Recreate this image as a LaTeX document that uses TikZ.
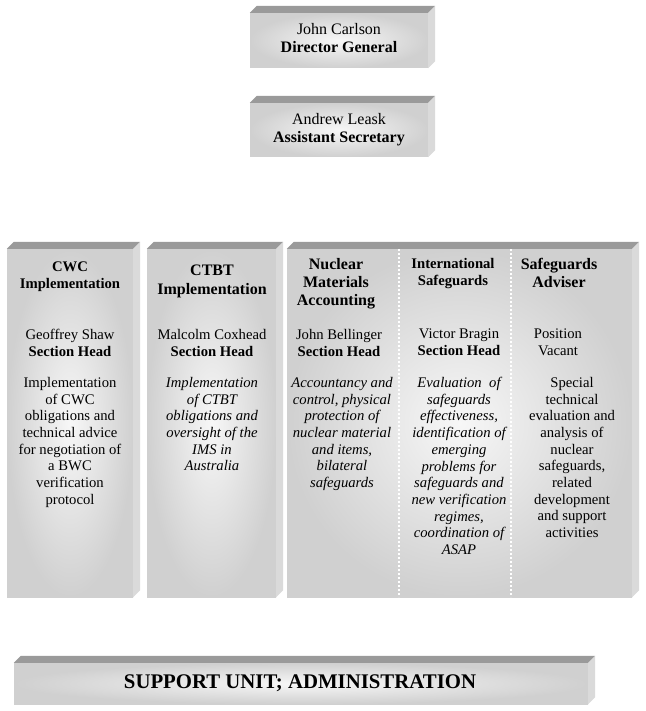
\documentclass[tikz,border=0pt]{standalone}
\usepackage{fontspec}
\setmainfont{Liberation Serif}
\usepackage{tikz}
\usetikzlibrary{positioning}
\usepackage{xcolor}
\definecolor{FaceGrey}{HTML}{D0D0D0}
\definecolor{FaceLight}{HTML}{F7F7F7}
\definecolor{TopGrey}{HTML}{9A9A9A}
\definecolor{SideGrey}{HTML}{DADADA}
\tikzset{
    % Box faces - front is shaded, top and side are flat
    front/.style={
        rectangle,
        inner sep=0pt,
        shading=radial,
        inner color=FaceLight,
        outer color=FaceGrey
    },
    topface/.style={
        fill=TopGrey
    },
    sideface/.style={
        fill=SideGrey
    },
    % Text styles
    toptext/.style={
        anchor=north,
        inner sep=0pt,
        align=center,
        font=\fontsize{16}{18.4}\selectfont
    },
    bigtitle/.style={
        anchor=north,
        inner sep=0pt,
        align=center,
        font=\fontsize{16}{18.3}\selectfont\bfseries
    },
    smalltitle/.style={
        anchor=north,
        inner sep=0pt,
        align=center,
        font=\fontsize{14.67}{16.7}\selectfont\bfseries
    },
    body/.style={
        anchor=north,
        inner sep=0pt,
        align=center,
        font=\fontsize{14.67}{16.7}\selectfont
    },
    itbody/.style={
        body,
        font=\fontsize{14.67}{16.7}\selectfont\itshape
    },
    divider/.style={
        draw=white,
        line width=1.6pt,
        dash pattern=on 2pt off 2pt
    }
}
% top and right side of a box node
\newcommand{\bevel}[1]{
    \fill[topface] (#1.north west) -- ([shift={(7,-7)}]#1.north west)
        -- ([shift={(7,-7)}]#1.north east) -- (#1.north east) -- cycle;
    \fill[sideface] (#1.north east) -- ([shift={(7,-7)}]#1.north east)
        -- ([shift={(7,-7)}]#1.south east) -- (#1.south east) -- cycle;
}

\begin{document}
\begin{tikzpicture}[x=1pt, y=-1pt]
    \useasboundingbox (0,0) rectangle (645,711);

    % boxes
    \node[front, minimum width=178, minimum height=55] (dg) at (339,40.5) {};
    \node[front, minimum width=178, minimum height=54] (as) at (339,130) {};
    \node[front, minimum width=126, minimum height=348] (cwc) at (70,423) {};
    \node[front, minimum width=129, minimum height=348] (ctbt) at (211.5,423) {};
    \node[front, minimum width=345, minimum height=348] (safe) at (459.5,423) {};
    \node[front, minimum width=574, minimum height=41] (sup) at (301,683.5) {};

    \bevel{dg}
    \bevel{as}
    \bevel{cwc}
    \bevel{ctbt}
    \bevel{safe}
    \bevel{sup}

    \draw[divider] (399,249) -- (399,597);
    \draw[divider] (511,249) -- (511,597);

    % top of the division
    \node[toptext] (dgtext) at (339,23) {John Carlson\\\textbf{Director General}};
    \node[toptext] (astext) at (339,113) {Andrew Leask\\\textbf{Assistant Secretary}};

    % column headings
    \node[smalltitle] (cwctitle) at (70,262) {CWC\\Implementation};
    \node[bigtitle] (ctbttitle) at (212,265) {CTBT\\Implementation};
    \node[bigtitle] (nmatitle) at (336,258) {Nuclear\\Materials\\Accounting};
    \node[smalltitle] (intltitle) at (453,258) {International\\Safeguards};
    \node[bigtitle] (advtitle) at (559,258) {Safeguards\\Adviser};

    % section heads
    \node[body] (cwchead) at (70,329) {Geoffrey Shaw\\\textbf{Section Head}};
    \node[body] (ctbthead) at (212,329) {Malcolm Coxhead\\\textbf{Section Head}};
    \node[body] (nmahead) at (339,329) {John Bellinger\\\textbf{Section Head}};
    \node[body] (intlhead) at (459,329) {Victor Bragin\\\textbf{Section Head}};
    \node[body] (advhead) at (558,329) {Position\\Vacant};

    % duties
    \node[body] (cwcduty) at (70,377) {Implementation\\of CWC\\obligations and\\technical advice\\for negotiation of\\a BWC\\verification\\protocol};
    \node[itbody] (ctbtduty) at (212,377) {Implementation\\of CTBT\\obligations and\\oversight of the\\IMS in\\Australia};
    \node[itbody] (nmaduty) at (342,377) {Accountancy and\\control, physical\\protection of\\nuclear material\\and items,\\bilateral\\safeguards};
    \node[itbody] (intlduty) at (459,377) {Evaluation \ of\\safeguards\\effectiveness,\\identification of\\emerging\\problems for\\safeguards and\\new verification\\regimes,\\coordination of\\ASAP};
    \node[body] (advduty) at (572,377) {Special\\technical\\evaluation and\\analysis of\\nuclear\\safeguards,\\related\\development\\and support\\activities};

    \node[toptext, font=\fontsize{20.8}{23}\selectfont\bfseries] (suptext) at (300,675) {SUPPORT UNIT; ADMINISTRATION};
\end{tikzpicture}
\end{document}
